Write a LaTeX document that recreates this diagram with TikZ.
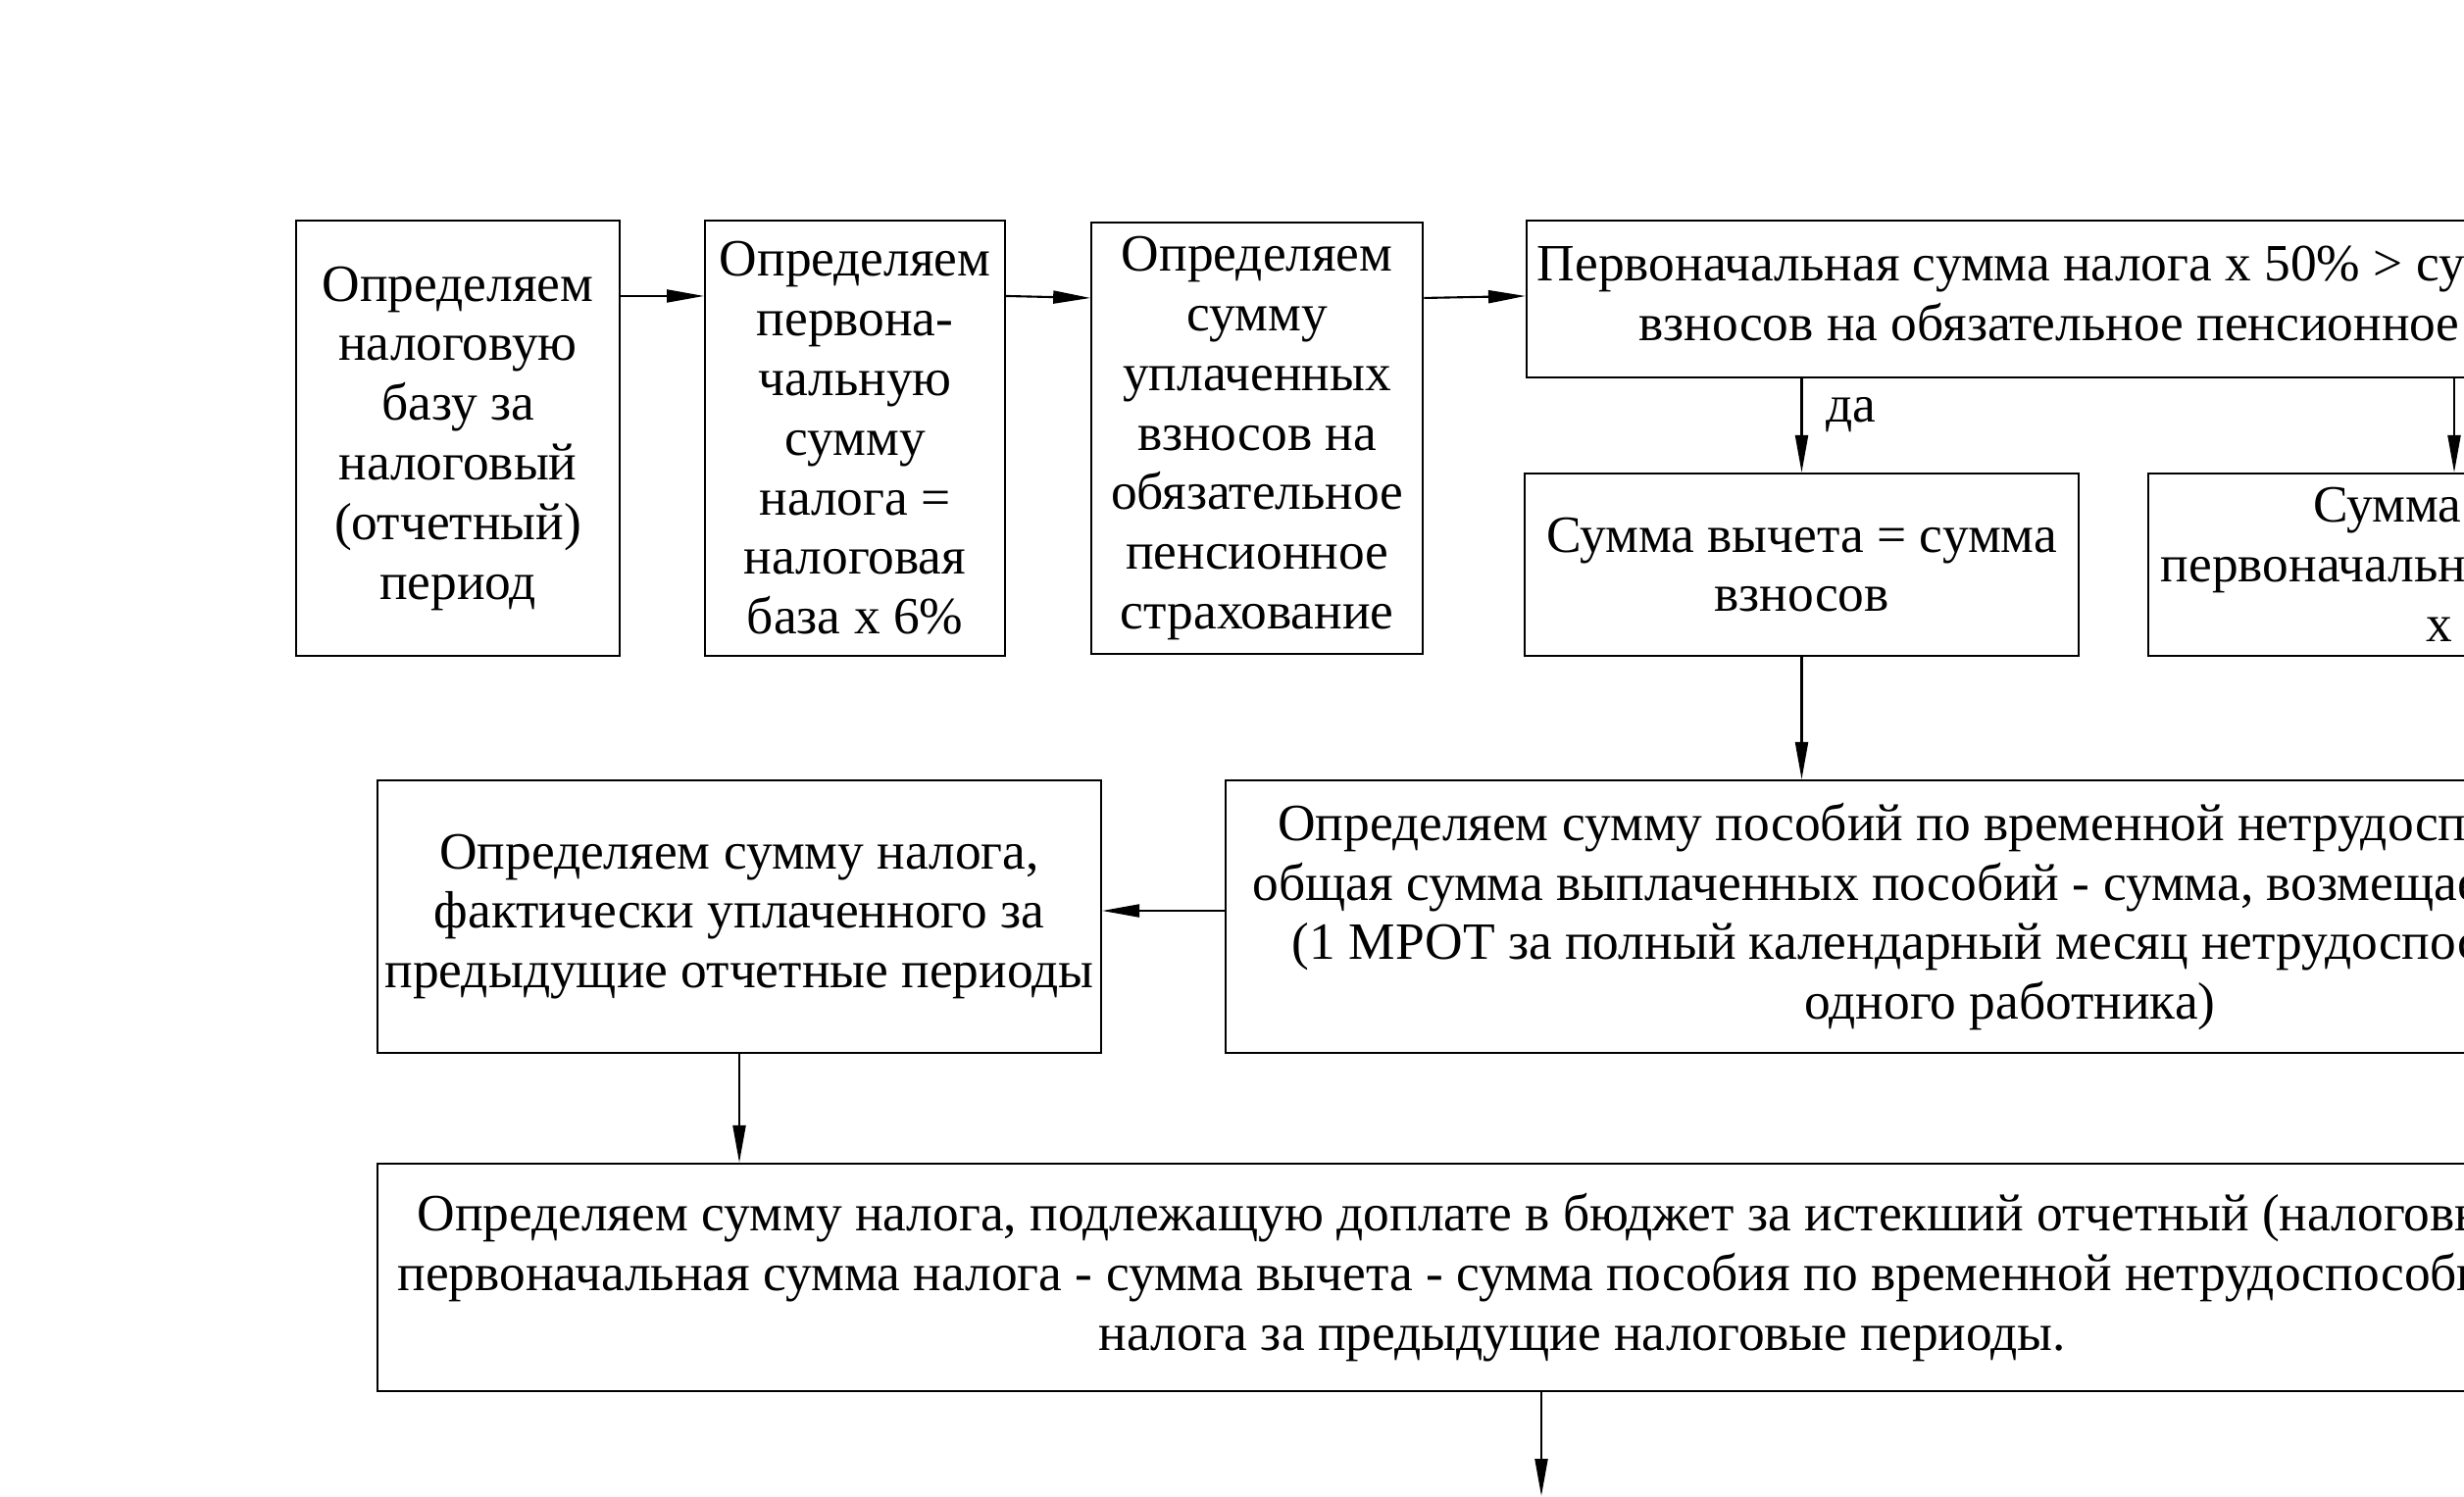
\documentclass[tikz,border=0pt]{standalone}
\usepackage{fontspec}
\setmainfont{Liberation Serif}
\usetikzlibrary{arrows.meta,positioning}
\tikzset{
  blk/.style={draw=black,line width=0.6pt,align=center,inner sep=0pt,font=\fontsize{15.2}{17.3}\selectfont},
  lbl/.style={inner sep=0pt,font=\fontsize{15.2}{17.3}\selectfont},
  fl/.style={-{Triangle[length=3.8mm,width=1.3mm]},line width=0.6pt},
}
\begin{document}
\begin{tikzpicture}
\useasboundingbox (0,0) rectangle (25.13,-15.26);
\clip (0,0) rectangle (25.13,-15.26);
% top row
\node[blk,minimum width=3.30cm,minimum height=4.44cm] (base) at (4.67,-4.47) {Определяем\\ налоговую\\ базу за\\ налоговый\\ (отчетный)\\ период};
\node[blk,right=0.85cm of base,minimum width=3.06cm,minimum height=4.44cm] (init) {Определяем\\ первона-\\ чальную\\ сумму\\ налога =\\ налоговая\\ база х 6\%};
\node[blk,right=0.86cm of init,minimum width=3.38cm,minimum height=4.40cm] (contr) {Определяем\\ сумму\\ уплаченных\\ взносов на\\ обязательное\\ пенсионное\\ страхование};
\node[blk,minimum width=13.58cm,minimum height=1.60cm] (cond) at (22.36,-3.05) {Первоначальная сумма налога х 50\% > суммы уплаченных\\ взносов на обязательное пенсионное страхование};
% deduction
\node[blk,minimum width=5.65cm,minimum height=1.86cm] (dedA) at (18.375,-5.76) {Сумма вычета = сумма\\ взносов};
\node[blk,minimum width=7.04cm,minimum height=1.86cm] (dedB) at (25.43,-5.76) {Сумма вычета =\\ первоначальная сумма налога\\ х 50\%};
% benefits and paid tax
\node[blk,minimum width=16.00cm,minimum height=2.78cm] (ben) at (20.50,-9.35) {Определяем сумму пособий по временной нетрудоспособности =\\ общая сумма выплаченных пособий - сумма, возмещаемая ФСС РФ\\ (1 МРОТ за полный календарный месяц нетрудоспособности на\\ одного работника)};
\node[blk,minimum width=7.38cm,minimum height=2.78cm] (paid) at (7.54,-9.35) {Определяем сумму налога,\\ фактически уплаченного за\\ предыдущие отчетные периоды};
% result
\node[blk,minimum width=24.58cm,minimum height=2.32cm] (due) at (16.14,-13.03) {Определяем сумму налога, подлежащую доплате в бюджет за истекший отчетный (налоговый) период =\\ первоначальная сумма налога - сумма вычета - сумма пособия по временной нетрудоспособности - сумма\\ налога за предыдущие налоговые периоды.};
\coordinate (nxt) at (15.72,-15.26);
% arrows
\draw[fl] ([yshift=-0.78cm]base.north east) -- ([yshift=-0.78cm]init.north west);
\draw[fl] ([yshift=-0.78cm]init.north east) -- ([yshift=-0.78cm]contr.north west);
\draw[fl] ([yshift=-0.78cm]contr.north east) -- ([yshift=-0.78cm]cond.north west);
\draw[fl] (dedA.north |- cond.south) -- node[lbl,pos=0.39,right=2.4mm] {да} (dedA.north);
\draw[fl] ([xshift=-0.40cm]dedB.north |- cond.south) -- ([xshift=-0.40cm]dedB.north);
\draw[fl] (dedA.south) -- (dedA.south |- ben.north);
\draw[fl] ([yshift=0.06cm]ben.west) -- ([yshift=0.06cm]ben.west -| paid.east);
\draw[fl] (paid.south) -- (paid.south |- due.north);
\draw[fl] (nxt |- due.south) -- (nxt);
\end{tikzpicture}
\end{document}
